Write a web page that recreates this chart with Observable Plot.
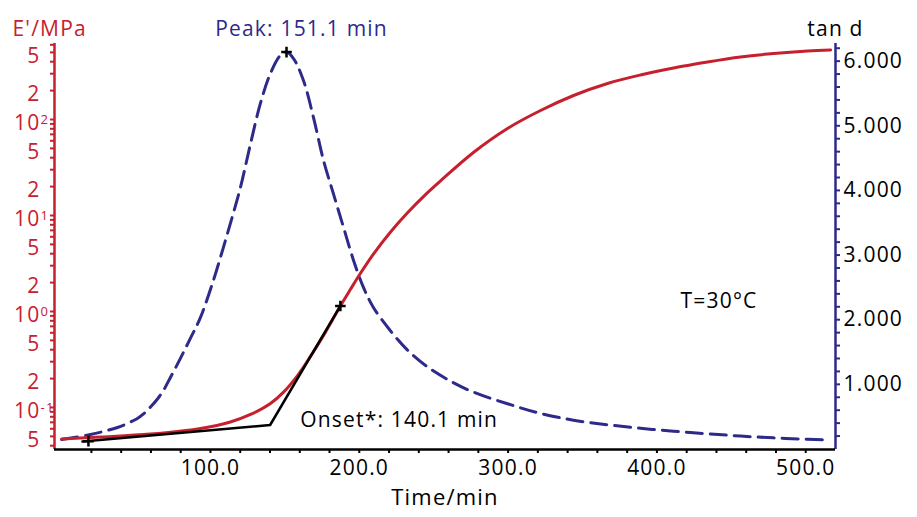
<!DOCTYPE html>
<html><head><meta charset="utf-8">
<script src="https://cdn.jsdelivr.net/npm/d3@7"></script>
<script src="https://cdn.jsdelivr.net/npm/@observablehq/plot@0.6"></script>
<style>
html,body{margin:0;padding:0;background:#fff;}
</style></head><body><div id="chart"></div>
<script>
// ---- data ----
const timeE = [0, 26.1, 59.7, 93.3, 113.4, 126.9, 140.3, 149.1, 158.5, 167.2, 176.2, 187.3, 194.1, 200.8, 209.5, 221.0, 232.4, 244.5, 254.6, 276.7, 299.6, 321.8, 344.0, 366.8, 389.0, 411.2, 434.0, 456.2, 478.4, 501.2, 516.7];
const modulusE = [0.0470, 0.0492, 0.0528, 0.0604, 0.0706, 0.0846, 0.1101, 0.1446, 0.2149, 0.3405, 0.5705, 1.141, 1.703, 2.500, 3.963, 6.73, 10.67, 16.51, 22.93, 45.3, 80.6, 124.1, 177.8, 237.1, 290.8, 344.0, 397.1, 447.9, 487.0, 517.0, 529.7];
const timeTan = [0, 19.4, 37.5, 44.2, 50.9, 55.0, 59.7, 64.4, 68.4, 73.1, 79.8, 86.5, 93.3, 102.0, 108.7, 115.4, 120.2, 126.9, 133.6, 140.3, 147.0, 151.1, 155.8, 162.5, 169.2, 175.9, 182.6, 189.4, 196.1, 202.8, 209.5, 220.9, 232.4, 245.8, 261.3, 276.7, 299.6, 321.8, 344.0, 366.8, 389.0, 411.2, 434.0, 456.2, 478.4, 501.2, 515.3];
const tanDelta = [0.147, 0.224, 0.333, 0.395, 0.472, 0.542, 0.650, 0.774, 0.906, 1.107, 1.401, 1.711, 2.036, 2.61, 3.12, 3.65, 4.05, 4.72, 5.35, 5.81, 6.09, 6.14, 6.04, 5.70, 5.13, 4.47, 3.95, 3.43, 2.92, 2.50, 2.19, 1.83, 1.53, 1.27, 1.05, 0.88, 0.70, 0.55, 0.445, 0.375, 0.32, 0.275, 0.235, 0.200, 0.172, 0.150, 0.138];
const onsetTime = [14, 140.1, 187.3];
const onsetE = [0.0442, 0.0657, 1.141];
const onsetMarkTime = [18, 187.3];
const onsetMarkE = [0.0446, 1.141];
const peakTime = [151.1];
const peakTan = [6.14];
const xLabelTicks = [100, 200, 300, 400, 500];
const xMinorTicks = d3.range(20, 520, 20);
const eLabelTicks = [0.05, 0.1, 0.2, 0.5, 1, 2, 5, 10, 20, 50, 100, 200, 500];
const tanLabelTicks = [1, 2, 3, 4, 5, 6];
const tanMinorTicks = d3.range(1, 32).map(i => i * 0.2);
const xDomain = [-4.8, 520];
const eDomain = [0.0365, 619];
const tanDomain = [-0.008, 6.273];
const eMinorTicks = d3.range(-2, 3).flatMap(k => d3.range(1, 10).map(m => m * 10 ** k)).filter(v => v >= eDomain[0] && v <= eDomain[1]);

// ---- styling ----
const red = "#c6202e", navy = "#2d2a8a";

// map tan d onto the E' (log) scale for the secondary axis
const lg0 = Math.log10(eDomain[0]), lg1 = Math.log10(eDomain[1]);
const toE = v => 10 ** (lg0 + (v - tanDomain[0]) / (tanDomain[1] - tanDomain[0]) * (lg1 - lg0));

const fmtE = d => {
  const k = Math.round(Math.log10(d));
  if (Math.abs(d / 10 ** k - 1) < 1e-9) return "10^" + k;
  return String(Math.round(d / 10 ** Math.floor(Math.log10(d) + 1e-9)));
};

const redRows = timeE.map((t, i) => ({t, v: modulusE[i]}));
const tanRows = timeTan.map((t, i) => ({t, v: toE(tanDelta[i])}));
const onsetRows = onsetTime.map((t, i) => ({t, v: onsetE[i]}));
const onsetMarks = onsetMarkTime.map((t, i) => ({t, v: onsetMarkE[i]}));
const peakRows = peakTime.map((t, i) => ({t, v: toE(peakTan[i])}));

const fig = Plot.plot({
  width: 917, height: 517,
  marginLeft: 54, marginRight: 82, marginTop: 43, marginBottom: 68,
  style: "font-family: 'Open Sans', sans-serif; letter-spacing: 1.2px; background: white; overflow: visible;",
  x: {domain: xDomain},
  y: {type: "log", domain: eDomain},
  marks: [
    // axis lines
    Plot.ruleX([xDomain[0]], {stroke: red, strokeWidth: 2.5}),
    Plot.ruleX([xDomain[1]], {stroke: navy, strokeWidth: 2.5}),
    Plot.ruleY([eDomain[0]], {stroke: "black", strokeWidth: 2.5}),
    // curves
    Plot.line(tanRows, {x: "t", y: "v", stroke: navy, strokeWidth: 3, strokeDasharray: "16,8", curve: "catmull-rom"}),
    Plot.line(redRows, {x: "t", y: "v", stroke: red, strokeWidth: 3, curve: "catmull-rom"}),
    Plot.line(onsetRows, {x: "t", y: "v", stroke: "black", strokeWidth: 2.5}),
    Plot.dot(onsetMarks, {x: "t", y: "v", symbol: "plus", r: 3.5, stroke: "black", strokeWidth: 2.5}),
    Plot.dot(peakRows, {x: "t", y: "v", symbol: "plus", r: 3.5, stroke: "black", strokeWidth: 2.5}),
    // annotations
    Plot.text(["E'/MPa"], {frameAnchor: "top-left", dx: -42, dy: -22, textAnchor: "start", fill: red, fontSize: 21}),
    Plot.text(peakRows, {x: "t", frameAnchor: "top", dx: 15, dy: -22, text: d => `Peak: ${d.t} min`, fill: navy, fontSize: 21}),
    Plot.text(["tan d"], {frameAnchor: "top-right", dy: -22, textAnchor: "middle", fill: "black", fontSize: 21}),
    Plot.text(["T=30°C"], {frameAnchor: "top-right", dx: -155, dy: 250, textAnchor: "start", fill: "black", fontSize: 21}),
    Plot.text([onsetRows[1]], {x: "t", y: "v", dx: 30, dy: -5, textAnchor: "start", text: d => `Onset*: ${d.t} min`, fill: "black", fontSize: 21}),
    Plot.text(["Time/min"], {frameAnchor: "bottom", dy: 55, fill: "black", fontSize: 22, letterSpacing: "1.5px"}),
    // x axis
    Plot.axisX(xMinorTicks, {tickSize: 4, tickFormat: () => "", stroke: "black", strokeWidth: 2, label: null}),
    Plot.axisX(xLabelTicks, {tickSize: 0, tickPadding: 11, tickFormat: d => d.toFixed(1), fill: "black", fontSize: 21, label: null}),
    // left axis (E')
    Plot.axisY(eMinorTicks, {anchor: "left", tickSize: 4, tickFormat: () => "", stroke: red, strokeWidth: 2, label: null}),
    Plot.text(eLabelTicks, {y: d => d, frameAnchor: "left", dx: -14, dy: 4, textAnchor: "end", text: fmtE, fill: red, fontSize: 21}),
    // right axis (tan d)
    Plot.axisY(tanMinorTicks.map(toE), {anchor: "right", tickSize: 4, tickFormat: () => "", stroke: navy, strokeWidth: 2, label: null}),
    Plot.text(tanLabelTicks, {y: d => toE(d), frameAnchor: "right", dx: 8, textAnchor: "start", text: d => d.toFixed(3), fill: "black", fontSize: 21})
  ]
});
document.getElementById("chart").append(fig);

// superscript exponents on the left axis
fig.querySelectorAll("text").forEach(t => {
  const m = /^10\^(-?\d+)$/.exec(t.textContent);
  if (!m) return;
  t.textContent = "10";
  const ts = document.createElementNS("http://www.w3.org/2000/svg", "tspan");
  ts.textContent = m[1];
  ts.setAttribute("font-size", "13");
  ts.setAttribute("dy", "-6.5");
  t.appendChild(ts);
  const w = ts.getComputedTextLength();
  t.setAttribute("transform", (t.getAttribute("transform") || "") + ` translate(${w},0)`);
});
</script></body></html>
